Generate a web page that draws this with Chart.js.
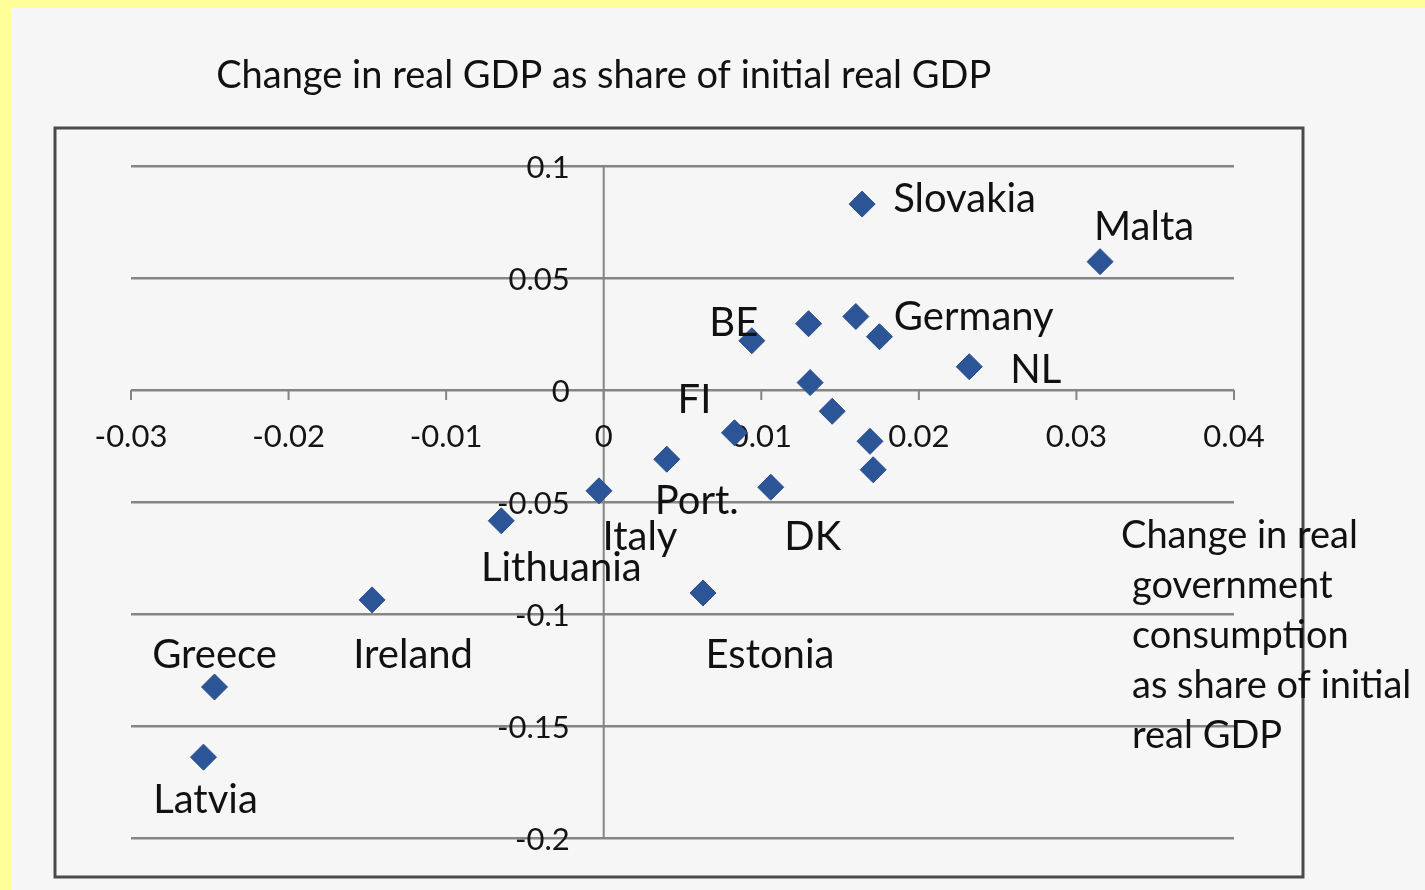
<!DOCTYPE html>
<html>
<head>
<meta charset="utf-8">
<title>Government consumption and real GDP</title>
<script src="https://cdn.jsdelivr.net/npm/chart.js@4.4.1/dist/chart.umd.min.js"></script>
<style>
  html, body { margin: 0; padding: 0; background: #f6f6f6; overflow: hidden; }
</style>
</head>
<body>
<canvas id="chartGobierno" width="1425" height="890"></canvas>
<script>

// one entry per country; '' means the point carries no label
const paises = ['Slovakia', 'Malta', 'BE', '', 'Germany', '', 'NL', '', '', 'FI',
  '', '', 'Port.', 'DK', 'Italy', 'Lithuania', 'Estonia', 'Ireland', 'Greece', 'Latvia'];

// change in real government consumption (share of initial real GDP)
const consumoGob = [0.0164, 0.0315, 0.0094, 0.0130, 0.0160, 0.0175, 0.0232, 0.0131, 0.0145, 0.0083,
  0.0169, 0.0171, 0.0040, 0.0106, -0.0003, -0.0065, 0.0063, -0.0147, -0.0247, -0.0254];

// change in real GDP (share of initial real GDP)
const cambioPIB = [0.0830, 0.0573, 0.0220, 0.0296, 0.0328, 0.0238, 0.0104, 0.0033, -0.0095, -0.0191,
  -0.0229, -0.0356, -0.0309, -0.0434, -0.0450, -0.0584, -0.0906, -0.0937, -0.1326, -0.1639];

const ticksX = [-0.03, -0.02, -0.01, 0, 0.01, 0.02, 0.03, 0.04];
const ticksY = [0.1, 0.05, 0, -0.05, -0.1, -0.15, -0.2];

const tituloY = 'Change in real GDP as share of initial real GDP';
const tituloX = ['Change in real', 'government', 'consumption', 'as share of initial', 'real GDP'];

// where each country name sits relative to its marker: [dx, dy, align]
const posEtiquetas = {
  'Slovakia': [31, -5, 'left'],
  'Malta': [44, -35, 'center'],
  'BE': [-18, -18, 'center'],
  'Germany': [38, 1, 'left'],
  'NL': [41, 3, 'left'],
  'FI': [-40, -33, 'center'],
  'Port.': [30, 42, 'center'],
  'DK': [42, 50, 'center'],
  'Italy': [41, 46, 'center'],
  'Lithuania': [60, 47, 'center'],
  'Estonia': [67, 62, 'center'],
  'Ireland': [41, 55, 'center'],
  'Greece': [0, -32, 'center'],
  'Latvia': [2, 43, 'center']
};

const fuente = 'Lato, "Noto Sans", sans-serif';

const puntos = paises.map((p, i) => ({ x: consumoGob[i], y: cambioPIB[i] }));

// frame, axes through zero, tick labels and all the texts
const decorado = {
  id: 'decorado',
  beforeDraw(chart) {
    const ctx = chart.ctx;
    ctx.save();
    ctx.fillStyle = '#f6f6f6';
    ctx.fillRect(0, 0, chart.width, chart.height);
    ctx.fillStyle = '#ffff99';
    ctx.fillRect(0, 0, chart.width, 8);
    ctx.fillRect(0, 0, 11, chart.height);
    ctx.restore();
  },
  beforeDatasetsDraw(chart) {
    const { ctx, chartArea: a, scales: { x, y } } = chart;
    const x0 = x.getPixelForValue(0);
    const y0 = y.getPixelForValue(0);
    ctx.save();
    ctx.strokeStyle = '#858585';
    ctx.lineWidth = 2;
    // vertical axis at x = 0
    ctx.beginPath();
    ctx.moveTo(x0, a.top);
    ctx.lineTo(x0, a.bottom);
    ctx.stroke();
    // horizontal axis at y = 0 with small tick marks
    ctx.beginPath();
    ctx.moveTo(a.left, y0);
    ctx.lineTo(a.right, y0);
    ticksX.forEach(v => {
      const px = x.getPixelForValue(v);
      ctx.moveTo(px, y0);
      ctx.lineTo(px, y0 + 10);
    });
    ctx.stroke();

    ctx.fillStyle = '#141414';
    ctx.font = '31px ' + fuente;
    ctx.textAlign = 'right';
    ctx.textBaseline = 'middle';
    ticksY.forEach(v => ctx.fillText(String(v), x0 - 34, y.getPixelForValue(v) + 2));
    ctx.textAlign = 'center';
    ticksX.forEach(v => ctx.fillText(String(v), x.getPixelForValue(v), y0 + 47));

    // outer frame
    ctx.strokeStyle = '#4a4a4a';
    ctx.lineWidth = 3;
    ctx.strokeRect(55, 128, 1248, 749);

    ctx.font = '38px ' + fuente;
    ctx.fillStyle = '#111';
    ctx.textAlign = 'center';
    ctx.fillText(tituloY, x0, 76);

    ctx.textAlign = 'left';
    tituloX.forEach((t, i) => ctx.fillText(t, i === 0 ? 1121 : 1132, 536 + i * 50));
    ctx.restore();
  },
  afterDatasetsDraw(chart) {
    const { ctx, scales: { x, y } } = chart;
    ctx.save();
    ctx.font = '40px ' + fuente;
    ctx.fillStyle = '#111';
    ctx.textBaseline = 'middle';
    paises.forEach((p, i) => {
      if (!p) return;
      const [dx, dy, al] = posEtiquetas[p];
      ctx.textAlign = al;
      ctx.fillText(p, x.getPixelForValue(consumoGob[i]) + dx, y.getPixelForValue(cambioPIB[i]) + dy);
    });
    ctx.restore();
  }
};

const chartGobierno = new Chart(document.getElementById('chartGobierno'), {
  type: 'scatter',
  data: {
    datasets: [{
      label: 'Countries',
      data: puntos,
      pointStyle: 'rectRot',
      pointRadius: 13,
      backgroundColor: '#2c5597',
      borderColor: '#2a5090',
      borderWidth: 1
    }]
  },
  options: {
    responsive: false,
    animation: false,
    events: [],
    layout: { padding: { left: 131, right: 191, top: 166, bottom: 52 } },
    plugins: { legend: { display: false }, tooltip: { enabled: false } },
    scales: {
      x: { type: 'linear', min: -0.03, max: 0.04, display: false },
      y: {
        type: 'linear',
        min: -0.2,
        max: 0.1,
        afterBuildTicks: s => { s.ticks = ticksY.map(v => ({ value: v })); },
        afterFit: s => { s.width = 0; },
        grid: { color: '#858585', lineWidth: 2.5, drawTicks: false },
        border: { display: false },
        ticks: { display: false }
      }
    }
  },
  plugins: [decorado]
});
</script>
</body>
</html>
